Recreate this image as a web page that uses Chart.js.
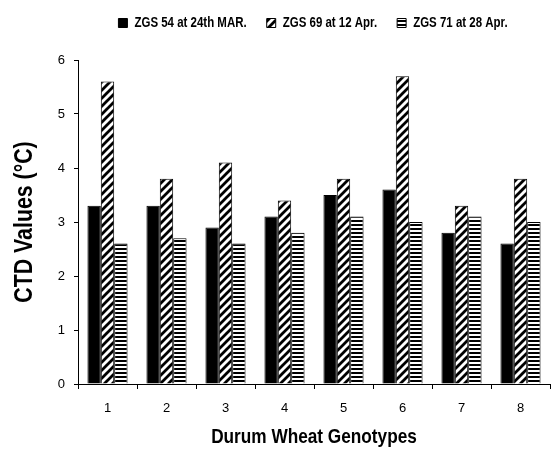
<!DOCTYPE html>
<html>
<head>
<meta charset="utf-8">
<script src="https://cdn.jsdelivr.net/npm/chart.js@4/dist/chart.umd.min.js"></script>
<style>
html,body{margin:0;padding:0;background:#fff;}
#wrap{width:551px;height:450px;position:relative;}
</style>
</head>
<body>
<div id="wrap"><canvas id="c" width="551" height="450"></canvas></div>
<script>
const genotypes = ['1','2','3','4','5','6','7','8'];
const zgs54 = [3.3, 3.3, 2.9, 3.1, 3.5, 3.6, 2.8, 2.6];
const zgs69 = [5.6, 3.8, 4.1, 3.4, 3.8, 5.7, 3.3, 3.8];
const zgs71 = [2.6, 2.7, 2.6, 2.8, 3.1, 3.0, 3.1, 3.0];
const seriesNames = ['ZGS 54 at 24th MAR.', 'ZGS 69 at 12 Apr.', 'ZGS 71 at 28 Apr.'];
const yTicks = [0,1,2,3,4,5,6];

const FAM = '"Liberation Sans", Arial, sans-serif';

// Bold labels use a narrow (Arial Narrow-like) look: compress glyphs horizontally
const SX = 0.82;
const canvas = document.getElementById('c');
const ctx = canvas.getContext('2d');
const isBold = c => /bold/.test(c.font);
const origFill = ctx.fillText;
ctx.fillText = function(t, x, y, mw){
  if (!isBold(this)) {
    if (mw === undefined) return origFill.call(this, t, x, y);
    return origFill.call(this, t, x, y, mw);
  }
  this.save();
  this.translate(x, y);
  this.scale(SX, 1);
  if (mw === undefined) origFill.call(this, t, 0, 0);
  else origFill.call(this, t, 0, 0, mw / SX);
  this.restore();
};
const origMeasure = ctx.measureText;
ctx.measureText = function(t){
  const m = origMeasure.call(this, t);
  if (!isBold(this)) return m;
  return {
    width: m.width * SX,
    actualBoundingBoxAscent: m.actualBoundingBoxAscent,
    actualBoundingBoxDescent: m.actualBoundingBoxDescent,
    actualBoundingBoxLeft: m.actualBoundingBoxLeft * SX,
    actualBoundingBoxRight: m.actualBoundingBoxRight * SX
  };
};

function diagPattern(){
  const c = document.createElement('canvas'); c.width = 8; c.height = 8;
  const g = c.getContext('2d');
  g.fillStyle = '#fff'; g.fillRect(0,0,8,8);
  g.strokeStyle = '#000'; g.lineWidth = 2.8;
  g.beginPath();
  g.moveTo(-2,10); g.lineTo(10,-2);
  g.moveTo(-6,6); g.lineTo(6,-6);
  g.moveTo(2,14); g.lineTo(14,2);
  g.stroke();
  return g.createPattern(c,'repeat');
}
function horizPattern(){
  const c = document.createElement('canvas'); c.width = 4; c.height = 4;
  const g = c.getContext('2d');
  g.fillStyle = '#fff'; g.fillRect(0,0,4,4);
  g.fillStyle = '#000'; g.fillRect(0,0,4,2);
  return g.createPattern(c,'repeat');
}
const pDiag = diagPattern();
const pHoriz = horizPattern();

const legendTweak = {
  id: 'legendTweak',
  beforeLayout(chart){
    const lg = chart.legend;
    if (lg && !lg._tweaked){
      const orig = lg.fit;
      lg.fit = function(){ orig.call(this); this.height = 60; };
      lg._tweaked = true;
    }
  },
  afterLayout(chart){
    chart.legend.left += 38;
    chart.legend.right += 38;
    chart.legend.top -= 4;
    chart.legend.bottom -= 4;
  }
};

new Chart(canvas, {
  type: 'bar',
  data: {
    labels: genotypes,
    datasets: [
      {label: seriesNames[0], data: zgs54, backgroundColor: '#000', borderColor: '#000', borderWidth: 1},
      {label: seriesNames[1], data: zgs69, backgroundColor: pDiag, borderColor: '#000', borderWidth: 1},
      {label: seriesNames[2], data: zgs71, backgroundColor: pHoriz, borderColor: '#000', borderWidth: 1}
    ]
  },
  options: {
    responsive: false,
    animation: false,
    devicePixelRatio: 1,
    layout: {padding: {left: 0, right: 1, top: 0, bottom: 0}},
    plugins: {
      legend: {
        position: 'top',
        labels: {
          boxWidth: 9, boxHeight: 9, padding: 20,
          color: '#000',
          font: {family: FAM, size: 14, weight: 'bold'}
        }
      },
      tooltip: {enabled: false}
    },
    datasets: {bar: {barPercentage: 1.0, categoryPercentage: 0.68}},
    scales: {
      x: {
        grid: {display: true, drawOnChartArea: false, drawTicks: true, tickLength: 5, color: '#000', offset: true},
        border: {display: true, color: '#000', width: 1},
        ticks: {color: '#000', padding: 12, font: {family: FAM, size: 13}},
        title: {display: true, text: 'Durum Wheat Genotypes', color: '#000', padding: {top: 4, bottom: 0},
          font: {family: FAM, size: 21, weight: 'bold'}},
        afterFit(s){ s.height = 66; }
      },
      y: {
        min: 0, max: 6,
        afterBuildTicks(s){ s.ticks = yTicks.map(v => ({value: v})); },
        grid: {display: true, drawOnChartArea: false, drawTicks: true, tickLength: 4, color: '#000'},
        border: {display: true, color: '#000', width: 1},
        ticks: {color: '#000', padding: 9, font: {family: FAM, size: 13}},
        title: {display: true, text: 'CTD Values (°C)', color: '#000', padding: {top: 9, bottom: 4},
          font: {family: FAM, size: 26, weight: 'bold'}},
        afterFit(s){ s.width = 78; }
      }
    }
  },
  plugins: [legendTweak]
});
</script>
</body>
</html>
